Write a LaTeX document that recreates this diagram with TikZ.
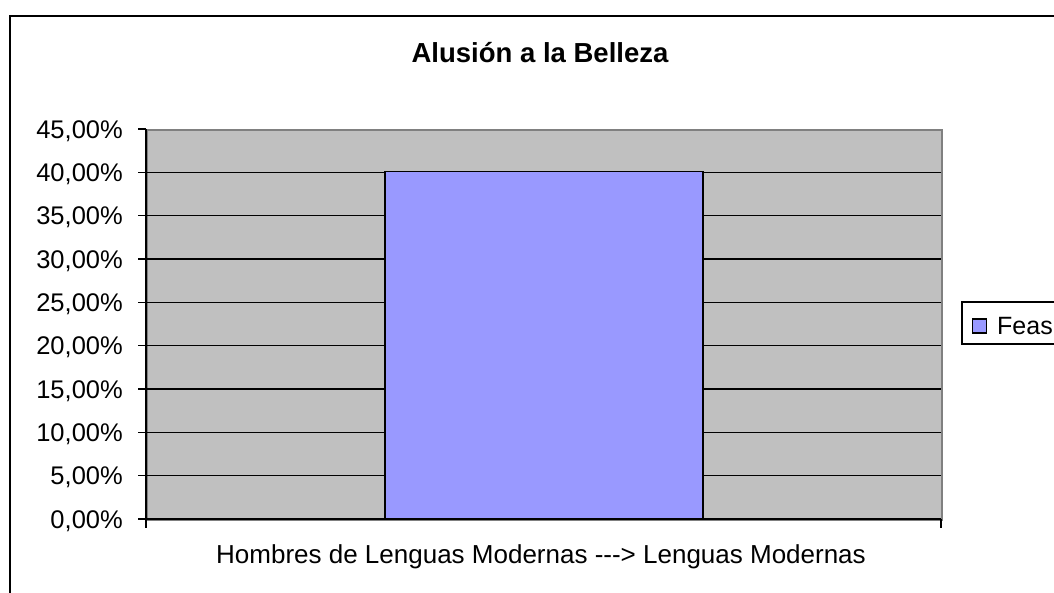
\documentclass[tikz,border=0pt]{standalone}
\usepackage{fontspec}
\setmainfont{Liberation Sans}
\usepackage{tikz}

\definecolor{plotgray}{HTML}{C0C0C0}
\definecolor{barblue}{HTML}{9999FF}

\begin{document}
\begin{tikzpicture}[x=1pt, y=-1pt,
	            every node/.style={
	            font=\fontsize{25.5}{30}\selectfont,
	            inner sep=0pt,
	            },
	            ylabel/.style={anchor=east},
	            gridline/.style={
                    draw,
                    line width=1.3pt
                }]

	        \useasboundingbox (0,0) rectangle (1054,592);
	        \fill[white] (0,0) rectangle (1054,592);

	        % chart frame
	        \draw[line width=2pt] (10,600) -- (10,16) -- (1060,16);

	        \node[font=\fontsize{27.5}{32}\selectfont\bfseries] (title) at (540,53) {Alusión a la Belleza};

	        % plot area
	        \node[fill=plotgray, draw=gray, line width=1.5pt, anchor=north west,
	            minimum width=795pt, minimum height=390pt] (plot) at (146,129) {};

	        \coordinate (r0) at (146,519);
	        \coordinate (r1) at (146,475.67);
	        \coordinate (r2) at (146,432.33);
	        \coordinate (r3) at (146,389);
	        \coordinate (r4) at (146,345.67);
	        \coordinate (r5) at (146,302.33);
	        \coordinate (r6) at (146,259);
	        \coordinate (r7) at (146,215.67);
	        \coordinate (r8) at (146,172.33);
	        \coordinate (r9) at (146,129);

	        \foreach \k in {0,...,8} {
	            \draw[gridline] ([xshift=-8pt]r\k) -- ([xshift=795pt]r\k);
	        }
	        \draw[gridline] ([xshift=-8pt]r9) -- (r9);
	        \draw[gridline] (r0) -- (r9);
	        \draw[gridline] (r0) -- ++(0,9);
	        \draw[gridline] ([xshift=795pt]r0) -- ++(0,9);

	        % bar
	        \node[fill=barblue, draw=black, line width=1.5pt, anchor=south west,
	            minimum width=318pt, minimum height=346.67pt] (bar) at (384,519) {};

	        \node[ylabel] (y0) at (123,521) {0,00\%};
	        \node[ylabel] (y1) at (123,477.67) {5,00\%};
	        \node[ylabel] (y2) at (123,434.33) {10,00\%};
	        \node[ylabel] (y3) at (123,391) {15,00\%};
	        \node[ylabel] (y4) at (123,347.67) {20,00\%};
	        \node[ylabel] (y5) at (123,304.33) {25,00\%};
	        \node[ylabel] (y6) at (123,261) {30,00\%};
	        \node[ylabel] (y7) at (123,217.67) {35,00\%};
	        \node[ylabel] (y8) at (123,174.33) {40,00\%};
	        \node[ylabel] (y9) at (123,131) {45,00\%};

	        \node[font=\fontsize{26}{30}\selectfont] (xlabel) at (541,557) {Hombres de Lenguas Modernas {-}{-}{-}> Lenguas Modernas};

	        % legend
	        \draw[line width=1.5pt] (1060,302) -- (962,302) -- (962,344) -- (1060,344);
	        \node[fill=barblue, draw=black, line width=1.2pt, minimum size=14pt] (key) at (979.5,326) {};
	        \node[anchor=west, font=\fontsize{25}{30}\selectfont] (feas) at (997,326) {Feas};

	    \end{tikzpicture}
\end{document}
